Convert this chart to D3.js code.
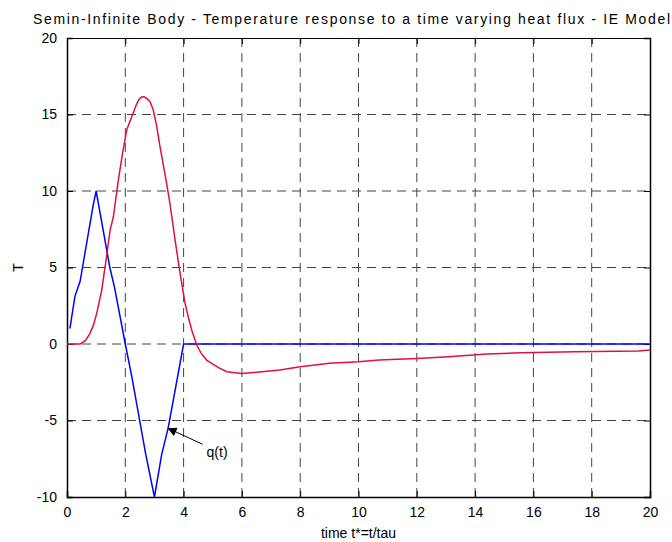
<!DOCTYPE html>
<html><head><meta charset="utf-8">
<script src="https://cdn.jsdelivr.net/npm/d3@7"></script>
<style>body{margin:0;background:#fff}svg{display:block}text{font-family:"Liberation Sans",Arial,sans-serif}</style>
</head><body>
<script>
const titleText = "Semin-Infinite Body - Temperature response to a time varying heat flux - IE Model";
const xLabel = "time t*=t/tau";
const yLabel = "T";
const xTicks = [0,2,4,6,8,10,12,14,16,18,20];
const yTicks = [-10,-5,0,5,10,15,20];
const tempT = [0,0.45,0.62,0.79,0.9,1.02,1.19,1.34,1.48,1.59,1.76,1.9,2.05,2.17,2.27,2.37,2.47,2.56,2.64,2.73,2.85,2.96,3.07,3.19,3.4,3.53,3.7,3.88,4.05,4.17,4.28,4.45,4.6,4.79,4.96,5.2,5.48,6.0,6.5,7.3,8.0,9.0,10.0,10.7,12.0,13.1,14.4,15.6,17.4,19.6,20];
const tempV = [0,0,0.2,0.7,1.2,2.0,3.5,5.5,7.45,8.3,10.7,12.4,14.0,14.6,15.08,15.6,15.98,16.14,16.16,16.05,15.84,15.29,14.3,12.9,10.7,9.2,6.9,4.6,2.66,1.7,0.9,-0.07,-0.6,-1.05,-1.26,-1.55,-1.81,-1.92,-1.85,-1.7,-1.48,-1.26,-1.16,-1.05,-0.94,-0.83,-0.65,-0.57,-0.5,-0.46,-0.39];
const fluxT = [0.1,0.27,0.45,0.9,1.0,1.47,1.63,2.0,2.22,2.7,3.0,3.25,3.47,4.0,20];
const fluxV = [1,3.1,4.1,9.1,10,5,3.7,0,-2.1,-7.2,-10,-7.2,-5.5,0,0];
const annText = "q(t)";
const annTip = [3.45,-5.5];
const annTail = [4.65,-6.55];

const W=672,H=542, L=67,R=650,T=38,B=497;
const svg=d3.select("body").append("svg").attr("width",W).attr("height",H);
const x=d3.scaleLinear().domain([0,20]).range([L,R]);
const y=d3.scaleLinear().domain([-10,20]).range([B,T]);

// grid
const g=svg.append("g");
xTicks.filter(v=>v>0&&v<20).forEach(v=>g.append("line").attr("x1",x(v)).attr("x2",x(v)).attr("y1",T).attr("y2",B)
  .attr("stroke","#444").attr("stroke-width",1).attr("stroke-dasharray","9,6"));
yTicks.filter(v=>v>-10&&v<20).forEach(v=>g.append("line").attr("x1",L).attr("x2",R).attr("y1",y(v)).attr("y2",y(v))
  .attr("stroke","#444").attr("stroke-width",1).attr("stroke-dasharray","9,6"));

// axes
const fs=14, fmt=d=>String(d);
svg.append("g").attr("transform",`translate(0,${B})`).call(d3.axisBottom(x).tickValues(xTicks).tickFormat(fmt).tickSize(-6).tickPadding(10))
 .call(a=>{a.select(".domain").attr("stroke","#000").attr("stroke-width",1.5);a.selectAll("text").attr("font-size",fs).attr("fill","#000").attr("font-family","Liberation Sans, Arial, sans-serif");});
svg.append("g").attr("transform",`translate(0,${T})`).call(d3.axisTop(x).tickValues(xTicks).tickSize(-6).tickFormat(""))
 .call(a=>a.select(".domain").attr("stroke","#000").attr("stroke-width",1));
svg.append("g").attr("transform",`translate(${L},0)`).call(d3.axisLeft(y).tickValues(yTicks).tickFormat(fmt).tickSize(-6).tickPadding(10))
 .call(a=>{a.select(".domain").attr("stroke","#000").attr("stroke-width",1.5);a.selectAll("text").attr("font-size",fs).attr("fill","#000").attr("font-family","Liberation Sans, Arial, sans-serif");});
svg.append("g").attr("transform",`translate(${R},0)`).call(d3.axisRight(y).tickValues(yTicks).tickSize(-6).tickFormat(""))
 .call(a=>a.select(".domain").attr("stroke","#000").attr("stroke-width",1.5));

// lines
const line=d3.line().x(d=>x(d[0])).y(d=>y(d[1]));
svg.append("path").datum(fluxT.map((t,i)=>[t,fluxV[i]])).attr("d",line).attr("fill","none").attr("stroke","#0000ff").attr("stroke-width",1.5);
svg.append("path").datum(tempT.map((t,i)=>[t,tempV[i]])).attr("d",line).attr("fill","none").attr("stroke","#e0103f").attr("stroke-width",1.5);

// annotation
svg.append("defs").append("marker").attr("id","ah").attr("viewBox","0 0 10 10").attr("refX",10).attr("refY",5)
 .attr("markerWidth",12).attr("markerHeight",9).attr("markerUnits","userSpaceOnUse").attr("orient","auto")
 .append("path").attr("d","M0,0L10,5L0,10z").attr("fill","#000");
svg.append("line").attr("x1",x(annTail[0])).attr("y1",y(annTail[1])).attr("x2",x(annTip[0])).attr("y2",y(annTip[1]))
 .attr("stroke","#000").attr("stroke-width",1).attr("marker-end","url(#ah)");
svg.append("text").attr("x",x(annTail[0])+4).attr("y",y(annTail[1])+13).attr("font-size",14).text(annText);

// titles
svg.append("text").attr("x",33).attr("y",24).attr("font-size",14).attr("textLength",637).attr("lengthAdjust","spacing").text(titleText);
svg.append("text").attr("x",(L+R)/2).attr("y",538).attr("text-anchor","middle").attr("font-size",14).text(xLabel);
svg.append("text").attr("transform",`translate(23,${(T+B)/2}) rotate(-90)`).attr("text-anchor","middle").attr("font-size",14).text(yLabel);
</script>
</body></html>
